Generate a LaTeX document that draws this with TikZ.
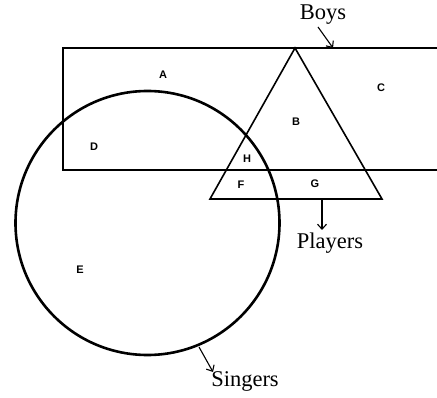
\documentclass[tikz,border=0pt]{standalone}
\usepackage{fontspec}
\setmainfont{Liberation Serif}
\newfontfamily\lblfont{Liberation Sans}
\usetikzlibrary{arrows.meta}
\begin{document}
\begin{tikzpicture}[x=1pt,y=-1pt,
  region/.style={font=\lblfont\bfseries\fontsize{11}{12}\selectfont, inner sep=0pt},
  setname/.style={font=\fontsize{22.5}{24}\selectfont, inner sep=0pt},
  pointer/.style={line width=1.1pt, -{Straight Barb[length=5pt,width=9pt,line width=1.1pt]}},
  outline/.style={line width=1.6pt}]
\useasboundingbox (0,0) rectangle (437,398);
% Boys rectangle (open at the right edge)
\draw[outline] (437,48) -- (63,48) -- (63,170) -- (437,170);
% Players triangle
\draw[outline] (295,48) -- (382,199) -- (210,199) -- cycle;
% Singers circle
\draw[line width=2.6pt] (147.5,223) circle[radius=132];
% region labels
\node[region] (A) at (163,75) {A};
\node[region] (B) at (296,122) {B};
\node[region] (C) at (381,88) {C};
\node[region] (D) at (94,147) {D};
\node[region] (E) at (80,270) {E};
\node[region] (F) at (241,185) {F};
\node[region] (G) at (315,184) {G};
\node[region] (H) at (247,159) {H};
% set names
\node[setname] (boys) at (323,15) {Boys};
\node[setname] (players) at (330,243) {Players};
\node[setname] (singers) at (245,381) {Singers};
\coordinate (boysend) at (333,48);
\coordinate (playstart) at (322,199);
\coordinate (playend) at (322,230);
\coordinate (singstart) at (199,347);
\coordinate (singend) at (213,372);
\draw[pointer] (318,27) -- (boysend);
\draw[pointer] (playstart) -- (playend);
\draw[pointer] (singstart) -- (singend);
\end{tikzpicture}
\end{document}
